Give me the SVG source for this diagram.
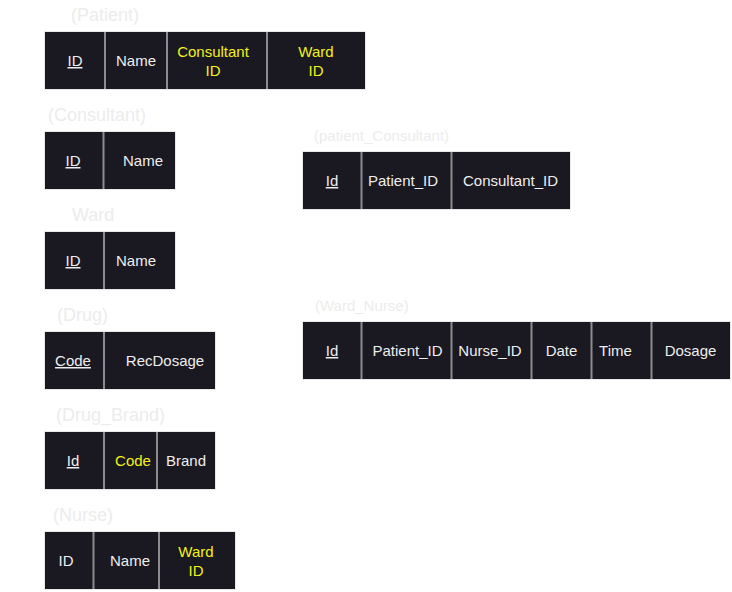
<svg xmlns="http://www.w3.org/2000/svg" width="732" height="592" viewBox="0 0 732 592">
<style>
.bg{fill:#ffffff}
.box{fill:#1a1820;stroke:#e8e8e8;stroke-width:1}
.div{stroke:#8c8c8c;stroke-width:2}
.t{font-family:"Liberation Sans",Arial,sans-serif;font-size:15px;fill:#eeeeee;text-anchor:middle}
.y{fill:#f2f21a}
.u{text-decoration:underline}
.lbl{font-family:"Liberation Sans",Arial,sans-serif;font-size:18px;fill:#ececec}
.lbs{font-family:"Liberation Sans",Arial,sans-serif;font-size:15px;fill:#ececec}
</style>
<rect class="bg" x="0" y="0" width="732" height="592"/>
<g id="patient">
<text class="lbl" x="71" y="21">(Patient)</text>
<rect class="box" x="44.5" y="31.5" width="321" height="58"/>
<line class="div" x1="105" y1="32" x2="105" y2="89"/>
<line class="div" x1="167" y1="32" x2="167" y2="89"/>
<line class="div" x1="267" y1="32" x2="267" y2="89"/>
<text class="t u" x="75" y="66">ID</text>
<text class="t" x="136" y="66">Name</text>
<text class="t y" x="213" y="57">Consultant</text>
<text class="t y" x="213" y="76">ID</text>
<text class="t y" x="316" y="57">Ward</text>
<text class="t y" x="316" y="76">ID</text>
</g>
<g id="consultant">
<text class="lbl" x="48" y="121">(Consultant)</text>
<rect class="box" x="44.5" y="131.5" width="131" height="58"/>
<line class="div" x1="103.5" y1="132" x2="103.5" y2="189"/>
<text class="t u" x="73" y="166">ID</text>
<text class="t" x="143" y="166">Name</text>
</g>
<g id="ward">
<text class="lbl" x="72" y="221">Ward</text>
<rect class="box" x="44.5" y="231.5" width="131" height="58"/>
<line class="div" x1="104" y1="232" x2="104" y2="289"/>
<text class="t u" x="73" y="266">ID</text>
<text class="t" x="136" y="266">Name</text>
</g>
<g id="drug">
<text class="lbl" x="57" y="321">(Drug)</text>
<rect class="box" x="44.5" y="331.5" width="171" height="58"/>
<line class="div" x1="104" y1="332" x2="104" y2="389"/>
<text class="t u" x="73" y="366">Code</text>
<text class="t" x="165" y="366">RecDosage</text>
</g>
<g id="drug_brand">
<text class="lbl" x="56" y="421">(Drug_Brand)</text>
<rect class="box" x="44.5" y="431.5" width="171" height="58"/>
<line class="div" x1="104" y1="432" x2="104" y2="489"/>
<line class="div" x1="157" y1="432" x2="157" y2="489"/>
<text class="t u" x="73" y="466">Id</text>
<text class="t y" x="133" y="466">Code</text>
<text class="t" x="186" y="466">Brand</text>
</g>
<g id="nurse">
<text class="lbl" x="53" y="521">(Nurse)</text>
<rect class="box" x="44.5" y="531.5" width="191" height="58"/>
<line class="div" x1="93.5" y1="532" x2="93.5" y2="589"/>
<line class="div" x1="159" y1="532" x2="159" y2="589"/>
<text class="t" x="66" y="566">ID</text>
<text class="t" x="130" y="566">Name</text>
<text class="t y" x="196" y="557">Ward</text>
<text class="t y" x="196" y="576">ID</text>
</g>
<g id="patient_consultant">
<text class="lbs" x="314" y="141">(patient_Consultant)</text>
<rect class="box" x="302.5" y="151.5" width="268" height="58"/>
<line class="div" x1="361.5" y1="152" x2="361.5" y2="209"/>
<line class="div" x1="451.5" y1="152" x2="451.5" y2="209"/>
<text class="t u" x="332" y="186">Id</text>
<text class="t" x="403" y="186">Patient_ID</text>
<text class="t" x="510.5" y="186">Consultant_ID</text>
</g>
<g id="ward_nurse">
<text class="lbs" x="315" y="311">(Ward_Nurse)</text>
<rect class="box" x="302.5" y="321.5" width="428" height="58"/>
<line class="div" x1="361.5" y1="322" x2="361.5" y2="379"/>
<line class="div" x1="451.5" y1="322" x2="451.5" y2="379"/>
<line class="div" x1="531.5" y1="322" x2="531.5" y2="379"/>
<line class="div" x1="591.5" y1="322" x2="591.5" y2="379"/>
<line class="div" x1="651.5" y1="322" x2="651.5" y2="379"/>
<text class="t u" x="332" y="356">Id</text>
<text class="t" x="407.5" y="356">Patient_ID</text>
<text class="t" x="490" y="356">Nurse_ID</text>
<text class="t" x="561.5" y="356">Date</text>
<text class="t" x="615.5" y="356">Time</text>
<text class="t" x="690.5" y="356">Dosage</text>
</g>
<g id="connectors"></g>
</svg>
